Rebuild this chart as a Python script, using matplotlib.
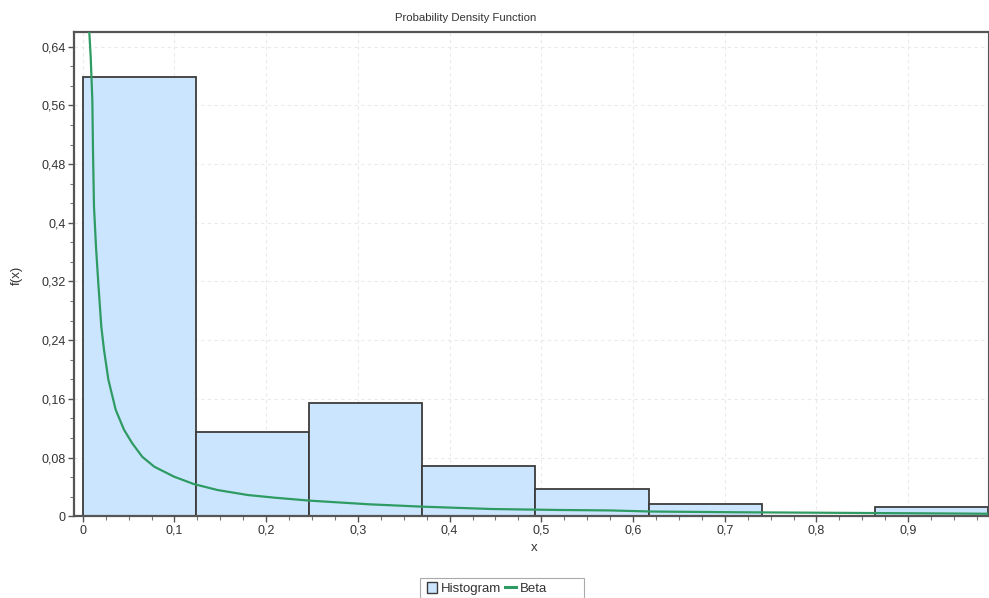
import matplotlib
matplotlib.use("Agg")
import matplotlib.pyplot as plt
from matplotlib.patches import Patch, Rectangle
from matplotlib.lines import Line2D
from matplotlib.ticker import MultipleLocator, FuncFormatter
import numpy as np

# Histogram data (bin edges and relative-frequency heights)
bin_edges = [0.0, 0.1234, 0.2468, 0.3702, 0.4936, 0.6170, 0.7404, 0.8638, 0.9872]
bin_heights = [0.598, 0.1153, 0.1548, 0.0686, 0.0372, 0.0168, 0.0, 0.0127]

# Beta curve points
beta_x = [0.0072, 0.0087, 0.0105, 0.0112, 0.0123, 0.0145, 0.017, 0.0203, 0.0232, 0.028,
          0.036, 0.045, 0.054, 0.065, 0.078, 0.0996, 0.121, 0.147, 0.18, 0.209, 0.248,
          0.313, 0.371, 0.447, 0.52, 0.575, 0.62, 0.714, 0.80, 0.894, 0.987]
beta_y = [0.66, 0.626, 0.567, 0.499, 0.422, 0.367, 0.3175, 0.258, 0.227, 0.186,
          0.145, 0.118, 0.0995, 0.081, 0.0676, 0.054, 0.044, 0.0358, 0.029, 0.0254, 0.0213,
          0.0163, 0.0131, 0.0099, 0.0086, 0.008, 0.0065, 0.0055, 0.0049, 0.0042, 0.0035]

title = "Probability Density Function"
xlabel = "x"
ylabel = "f(x)"

plt.rcParams['font.family'] = ['Liberation Sans', 'DejaVu Sans']

W, H = 989, 598
fig = plt.figure(figsize=(W / 100, H / 100), dpi=100)
ax = fig.add_axes([74 / W, (H - 516.3) / H, 914 / W, (516.3 - 32) / H])

fill_c = "#CCE5FF"
edge_c = "#3C3C3C"
line_c = "#2E9B62"
text_c = "#333333"

widths = np.diff(bin_edges)
ax.bar(bin_edges[:-1], bin_heights, width=widths, align='edge',
       color=fill_c, edgecolor=edge_c, linewidth=1.3, zorder=2)
ax.plot(beta_x, beta_y, color=line_c, linewidth=1.6, zorder=3, clip_on=True)

ax.set_xlim(-0.0095, 0.987)
ax.set_ylim(0, 0.66)

ax.xaxis.set_major_locator(MultipleLocator(0.1))
ax.xaxis.set_minor_locator(MultipleLocator(0.025))
ax.yaxis.set_major_locator(MultipleLocator(0.08))
ax.yaxis.set_minor_locator(MultipleLocator(0.08 / 3))

def fmt(v, pos):
    if abs(v) < 1e-9:
        return "0"
    s = ("%.2f" % v).rstrip('0').rstrip('.')
    return s.replace('.', ',')

ax.xaxis.set_major_formatter(FuncFormatter(fmt))
ax.yaxis.set_major_formatter(FuncFormatter(fmt))

ax.grid(True, which='major', linestyle=(0, (3, 3)), color="#EAEAEA", linewidth=0.8, zorder=0)
ax.set_axisbelow(True)

for side in ['left', 'bottom', 'top', 'right']:
    ax.spines[side].set_color("#555555")
    ax.spines[side].set_linewidth(1.6)
ax.spines['right'].set_linewidth(0.8)

ax.tick_params(which='major', direction='out', length=4, width=1, color="#555555",
               labelsize=9, labelcolor=text_c, pad=2)
ax.tick_params(which='minor', direction='out', length=3, width=0.8, color="#777777")

fig.text(466 / W, 1 - 18 / H, title, ha='center', va='center', fontsize=8.2, color=text_c)
fig.text(534 / W, 1 - 548 / H, xlabel, ha='center', va='center', fontsize=9.5, color=text_c)
fig.text(17 / W, 1 - 275 / H, ylabel, ha='center', va='center', fontsize=9.5,
         color=text_c, rotation=90)

# legend frame
fig.patches.append(Rectangle((420 / W, 0), (584 - 420) / W, (598 - 578) / H,
                             transform=fig.transFigure, facecolor='white',
                             edgecolor="#AAAAAA", linewidth=0.8, zorder=1))

handles = [Patch(facecolor=fill_c, edgecolor=edge_c, linewidth=1.0),
           Line2D([0], [0], color=line_c, linewidth=2.2)]
leg = fig.legend(handles, ["Histogram", "Beta"], loc='upper left',
                 bbox_to_anchor=(424 / W, 1 - 579 / H), ncol=2, frameon=False,
                 handlelength=0.8, handleheight=0.9,
                 handletextpad=0.3, columnspacing=0.3, borderpad=0.2, borderaxespad=0,
                 prop={'size': 9.5})
for t in leg.get_texts():
    t.set_color(text_c)

fig.savefig("out.png", dpi=100)
